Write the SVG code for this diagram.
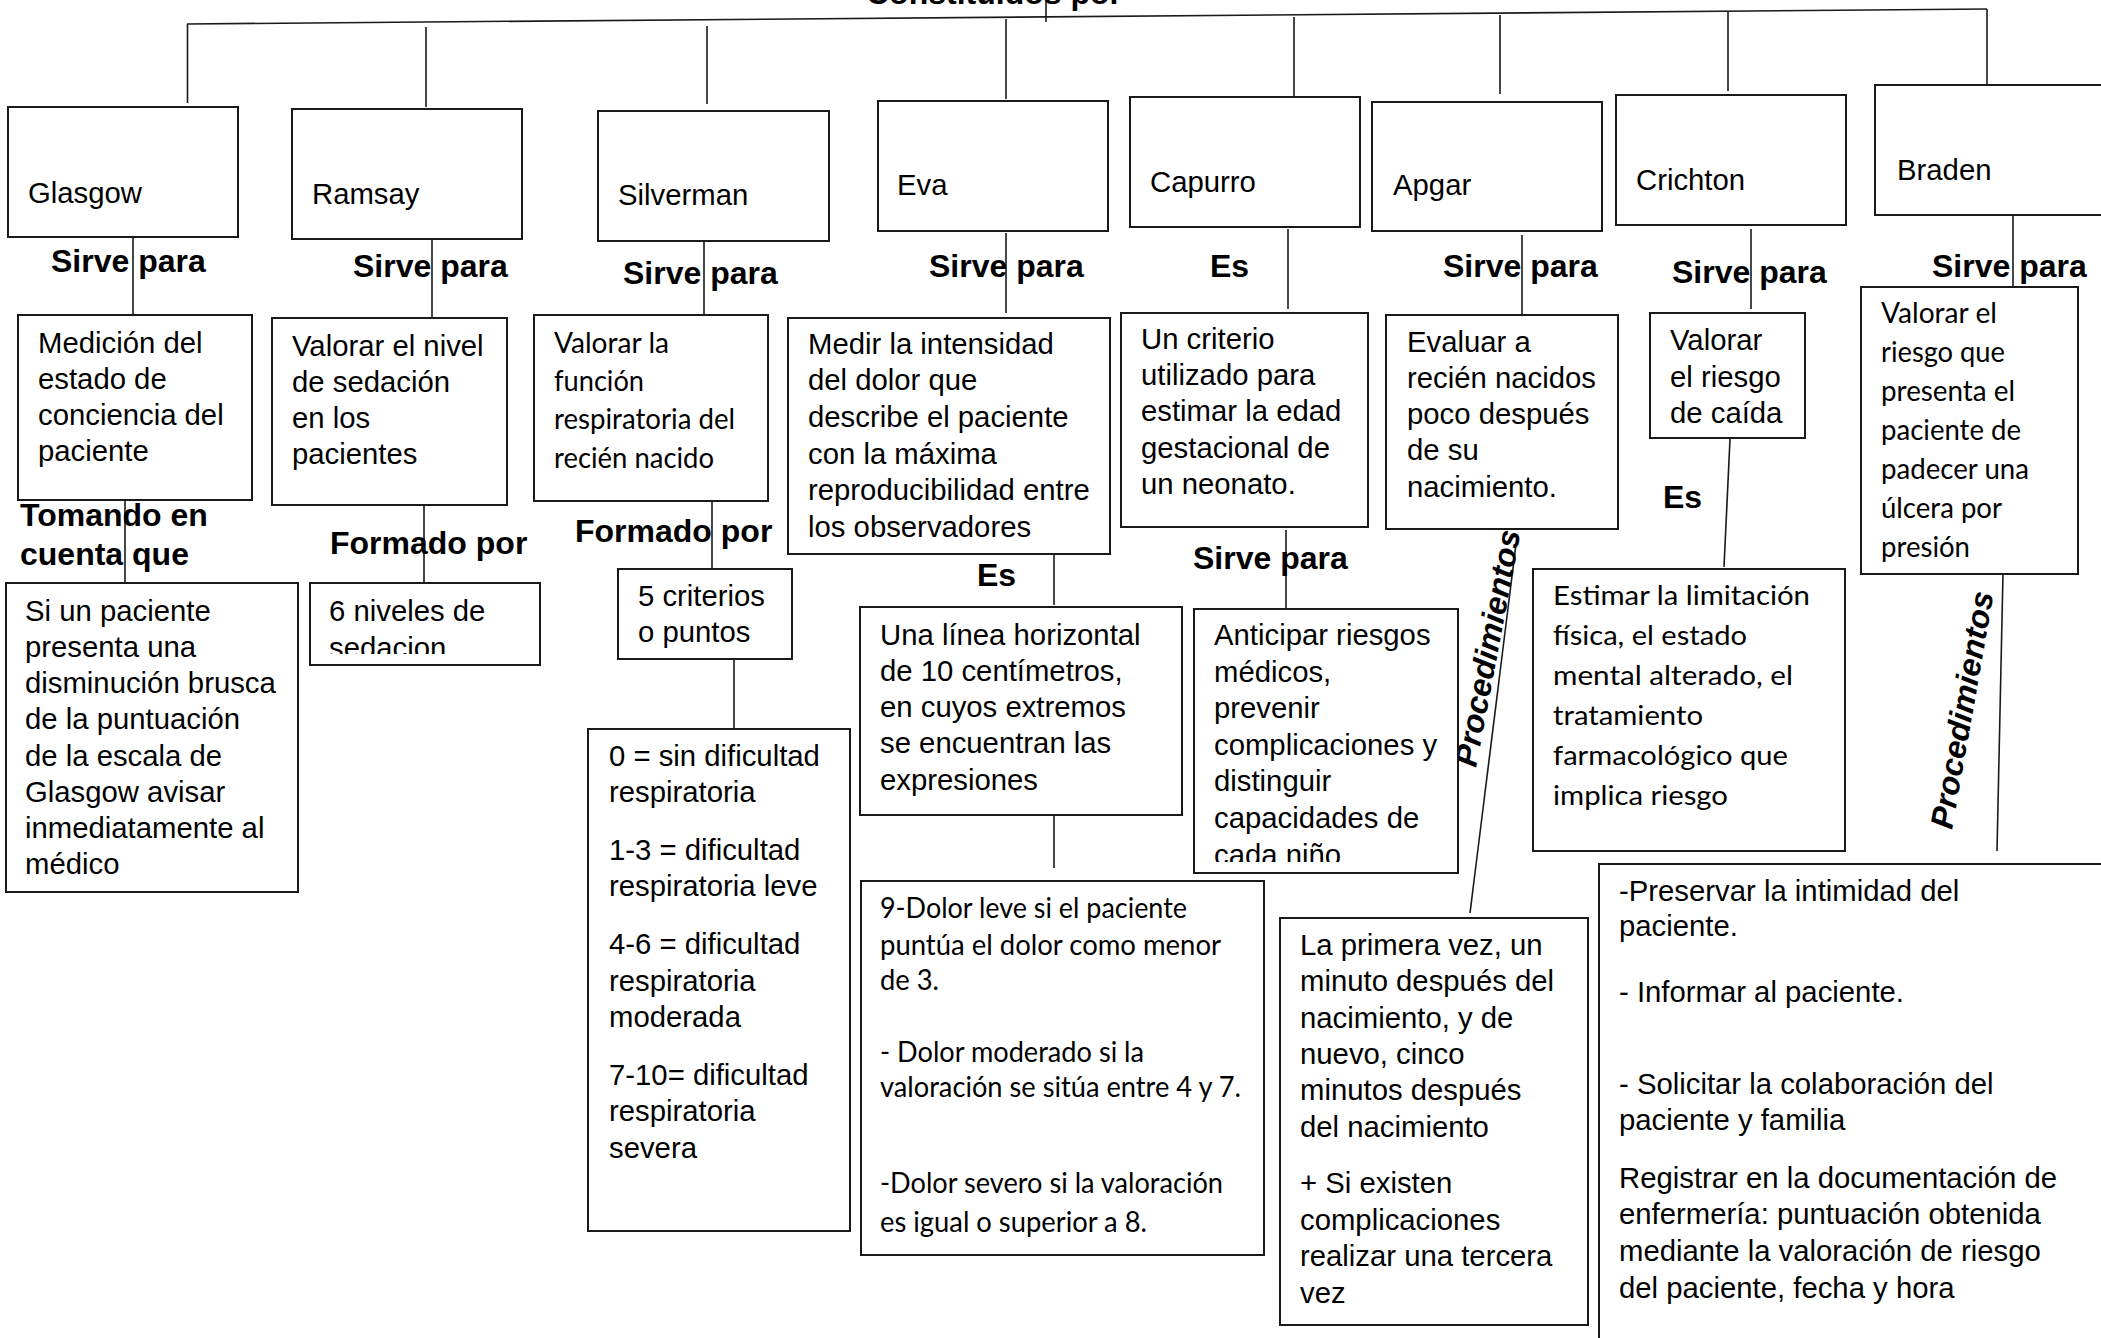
<svg xmlns="http://www.w3.org/2000/svg" width="2101" height="1338" viewBox="0 0 2101 1338">
<style>
.box{fill:#fff;stroke:#1a1a1a;stroke-width:2}
.ln{stroke:#1a1a1a;stroke-width:1.6;fill:none}
.t{font-family:"Liberation Sans",Arial,sans-serif;font-size:29.3px;fill:#000}
.c{font-family:Lato,"Liberation Sans",sans-serif;font-size:29.3px;fill:#000}
.g{font-family:Lato,"Liberation Sans",sans-serif;font-size:27.5px;fill:#000}
.b{font-family:"Liberation Sans",Arial,sans-serif;font-size:32px;font-weight:bold;fill:#000}
.bi{font-family:"Liberation Sans",Arial,sans-serif;font-size:32px;font-weight:bold;font-style:italic;fill:#000}
</style>
<defs>
<clipPath id="clipSed"><rect x="310" y="583" width="230" height="71"/></clipPath>
<clipPath id="clipAnt"><rect x="1194" y="609" width="264" height="253"/></clipPath>
</defs>
<rect width="2101" height="1338" fill="#fff"/>

<g id="connectors">
<line class="ln" x1="187" y1="24" x2="1987" y2="9"/>
<line class="ln" x1="1046" y1="0" x2="1046" y2="22"/>
<line class="ln" x1="187.5" y1="24" x2="187.5" y2="103"/>
<line class="ln" x1="426" y1="27" x2="426" y2="107"/>
<line class="ln" x1="707" y1="26" x2="707" y2="104"/>
<line class="ln" x1="1006" y1="19" x2="1006" y2="99"/>
<line class="ln" x1="1294" y1="17" x2="1294" y2="97"/>
<line class="ln" x1="1500" y1="15" x2="1500" y2="94"/>
<line class="ln" x1="1728" y1="12" x2="1728" y2="91"/>
<line class="ln" x1="1987" y1="9" x2="1987" y2="85"/>
<line class="ln" x1="133" y1="237" x2="133" y2="315"/>
<line class="ln" x1="432" y1="239" x2="432" y2="318"/>
<line class="ln" x1="704" y1="237" x2="704" y2="315"/>
<line class="ln" x1="1006" y1="233" x2="1006" y2="313"/>
<line class="ln" x1="1288" y1="229" x2="1288" y2="309"/>
<line class="ln" x1="1522" y1="235" x2="1522" y2="314"/>
<line class="ln" x1="1751" y1="229" x2="1751" y2="309"/>
<line class="ln" x1="2013" y1="213" x2="2013" y2="287"/>
<line class="ln" x1="125" y1="500" x2="125" y2="583"/>
<line class="ln" x1="424" y1="505" x2="424" y2="583"/>
<line class="ln" x1="712" y1="501" x2="712" y2="569"/>
<line class="ln" x1="1054" y1="549" x2="1054" y2="605"/>
<line class="ln" x1="1286" y1="530" x2="1286" y2="609"/>
<line class="ln" x1="1517" y1="536" x2="1470" y2="913"/>
<line class="ln" x1="1730" y1="439" x2="1724" y2="567"/>
<line class="ln" x1="2003" y1="573" x2="1997" y2="851"/>
<line class="ln" x1="734" y1="659" x2="734" y2="729"/>
<line class="ln" x1="1054" y1="815" x2="1054" y2="868"/>
</g>

<g id="labels">
<text class="b" x="866" y="4">Constituidos por</text>
<text class="b" x="51" y="272">Sirve para</text>
<text class="b" x="353" y="277">Sirve para</text>
<text class="b" x="623" y="284">Sirve para</text>
<text class="b" x="929" y="277">Sirve para</text>
<text class="b" x="1210" y="277">Es</text>
<text class="b" x="1443" y="277">Sirve para</text>
<text class="b" x="1672" y="283">Sirve para</text>
<text class="b" x="1932" y="277">Sirve para</text>
<text class="b"><tspan x="20" y="526">Tomando en</tspan><tspan x="20" y="565">cuenta que</tspan></text>
<text class="b" x="330" y="554">Formado por</text>
<text class="b" x="575" y="542">Formado por</text>
<text class="b" x="977" y="586">Es</text>
<text class="b" x="1193" y="569">Sirve para</text>
<text class="b" x="1663" y="508">Es</text>
<text class="bi" transform="translate(1476,768) rotate(-79.3)">Procedimientos</text>
<text class="bi" transform="translate(1952,830) rotate(-80)">Procedimientos</text>
</g>

<g id="glasgow"><rect class="box" x="8" y="107" width="230" height="130"/><text class="t" x="28" y="203">Glasgow</text></g>
<g id="ramsay"><rect class="box" x="292" y="109" width="230" height="130"/><text class="t" x="312" y="204">Ramsay</text></g>
<g id="silverman"><rect class="box" x="598" y="111" width="231" height="130"/><text class="t" x="618" y="205">Silverman</text></g>
<g id="eva"><rect class="box" x="878" y="101" width="230" height="130"/><text class="t" x="897" y="195">Eva</text></g>
<g id="capurro"><rect class="box" x="1130" y="97" width="230" height="130"/><text class="t" x="1150" y="192">Capurro</text></g>
<g id="apgar"><rect class="box" x="1372" y="102" width="230" height="129"/><text class="t" x="1393" y="195">Apgar</text></g>
<g id="crichton"><rect class="box" x="1616" y="95" width="230" height="130"/><text class="t" x="1636" y="190">Crichton</text></g>
<g id="braden"><rect class="box" x="1875" y="85" width="240" height="130"/><text class="t" x="1897" y="180">Braden</text></g>

<g id="glasgow-desc"><rect class="box" x="18" y="315" width="234" height="185"/>
<text class="t"><tspan x="38" y="353">Medición del</tspan><tspan x="38" y="389">estado de</tspan><tspan x="38" y="425">conciencia del</tspan><tspan x="38" y="461">paciente</tspan></text></g>
<g id="ramsay-desc"><rect class="box" x="272" y="318" width="235" height="187"/>
<text class="t"><tspan x="292" y="356">Valorar el nivel</tspan><tspan x="292" y="392">de sedación</tspan><tspan x="292" y="428">en los</tspan><tspan x="292" y="464">pacientes</tspan></text></g>
<g id="silverman-desc"><rect class="box" x="534" y="315" width="234" height="186"/>
<text class="c"><tspan x="554" y="353" textLength="115" lengthAdjust="spacingAndGlyphs">Valorar la</tspan><tspan x="554" y="391" textLength="90" lengthAdjust="spacingAndGlyphs">función</tspan><tspan x="554" y="429" textLength="181" lengthAdjust="spacingAndGlyphs">respiratoria del</tspan><tspan x="554" y="468" textLength="160" lengthAdjust="spacingAndGlyphs">recién nacido</tspan></text></g>
<g id="eva-desc"><rect class="box" x="788" y="318" width="322" height="236"/>
<text class="t"><tspan x="808" y="354">Medir la intensidad</tspan><tspan x="808" y="390">del dolor que</tspan><tspan x="808" y="427">describe el paciente</tspan><tspan x="808" y="464">con la máxima</tspan><tspan x="808" y="500">reproducibilidad entre</tspan><tspan x="808" y="537">los observadores</tspan></text></g>
<g id="capurro-desc"><rect class="box" x="1121" y="313" width="247" height="214"/>
<text class="t"><tspan x="1141" y="349">Un criterio</tspan><tspan x="1141" y="385">utilizado para</tspan><tspan x="1141" y="421">estimar la edad</tspan><tspan x="1141" y="458">gestacional de</tspan><tspan x="1141" y="494">un neonato.</tspan></text></g>
<g id="apgar-desc"><rect class="box" x="1386" y="315" width="232" height="214"/>
<text class="t"><tspan x="1407" y="352">Evaluar a</tspan><tspan x="1407" y="388">recién nacidos</tspan><tspan x="1407" y="424">poco después</tspan><tspan x="1407" y="460">de su</tspan><tspan x="1407" y="497">nacimiento.</tspan></text></g>
<g id="crichton-desc"><rect class="box" x="1650" y="313" width="155" height="125"/>
<text class="t"><tspan x="1670" y="350">Valorar</tspan><tspan x="1670" y="387">el riesgo</tspan><tspan x="1670" y="423">de caída</tspan></text></g>
<g id="braden-desc"><rect class="box" x="1861" y="287" width="217" height="287"/>
<text class="c"><tspan x="1881" y="323" textLength="116" lengthAdjust="spacingAndGlyphs">Valorar el</tspan><tspan x="1881" y="362" textLength="124" lengthAdjust="spacingAndGlyphs">riesgo que</tspan><tspan x="1881" y="401" textLength="134" lengthAdjust="spacingAndGlyphs">presenta el</tspan><tspan x="1881" y="440" textLength="140" lengthAdjust="spacingAndGlyphs">paciente de</tspan><tspan x="1881" y="479" textLength="148" lengthAdjust="spacingAndGlyphs">padecer una</tspan><tspan x="1881" y="518" textLength="121" lengthAdjust="spacingAndGlyphs">úlcera por</tspan><tspan x="1881" y="557" textLength="89" lengthAdjust="spacingAndGlyphs">presión</tspan></text></g>

<g id="glasgow-nota"><rect class="box" x="6" y="583" width="292" height="309"/>
<text class="t"><tspan x="25" y="621">Si un paciente</tspan><tspan x="25" y="657">presenta una</tspan><tspan x="25" y="693">disminución brusca</tspan><tspan x="25" y="729">de la puntuación</tspan><tspan x="25" y="766">de la escala de</tspan><tspan x="25" y="802">Glasgow avisar</tspan><tspan x="25" y="838">inmediatamente al</tspan><tspan x="25" y="874">médico</tspan></text></g>
<g id="ramsay-niveles"><rect class="box" x="310" y="583" width="230" height="82"/>
<text class="t" clip-path="url(#clipSed)"><tspan x="329" y="621">6 niveles de</tspan><tspan x="329" y="658">sedacion</tspan></text></g>
<g id="silverman-criterios"><rect class="box" x="618" y="569" width="174" height="90"/>
<text class="t"><tspan x="638" y="606">5 criterios</tspan><tspan x="638" y="642">o puntos</tspan></text></g>
<g id="eva-es"><rect class="box" x="860" y="607" width="322" height="208"/>
<text class="t"><tspan x="880" y="645">Una línea horizontal</tspan><tspan x="880" y="681">de 10 centímetros,</tspan><tspan x="880" y="717">en cuyos extremos</tspan><tspan x="880" y="753">se encuentran las</tspan><tspan x="880" y="790">expresiones</tspan></text></g>
<g id="capurro-sirve"><rect class="box" x="1194" y="609" width="264" height="264"/>
<text class="t" clip-path="url(#clipAnt)"><tspan x="1214" y="645">Anticipar riesgos</tspan><tspan x="1214" y="682">médicos,</tspan><tspan x="1214" y="718">prevenir</tspan><tspan x="1214" y="755">complicaciones y</tspan><tspan x="1214" y="791">distinguir</tspan><tspan x="1214" y="828">capacidades de</tspan><tspan x="1214" y="865">cada niño</tspan></text></g>
<g id="crichton-es"><rect class="box" x="1533" y="569" width="312" height="282"/>
<text class="g"><tspan x="1553" y="605" textLength="257" lengthAdjust="spacingAndGlyphs">Estimar la limitación</tspan><tspan x="1553" y="645" textLength="194" lengthAdjust="spacingAndGlyphs">física, el estado</tspan><tspan x="1553" y="685" textLength="240" lengthAdjust="spacingAndGlyphs">mental alterado, el</tspan><tspan x="1553" y="725" textLength="150" lengthAdjust="spacingAndGlyphs">tratamiento</tspan><tspan x="1553" y="765" textLength="235" lengthAdjust="spacingAndGlyphs">farmacológico que</tspan><tspan x="1553" y="805" textLength="175" lengthAdjust="spacingAndGlyphs">implica riesgo</tspan></text></g>

<g id="silverman-escala"><rect class="box" x="588" y="729" width="262" height="502"/>
<text class="t"><tspan x="609" y="766">0 = sin dificultad</tspan><tspan x="609" y="802">respiratoria</tspan><tspan x="609" y="860">1-3 = dificultad</tspan><tspan x="609" y="896">respiratoria leve</tspan><tspan x="609" y="954">4-6 = dificultad</tspan><tspan x="609" y="991">respiratoria</tspan><tspan x="609" y="1027">moderada</tspan><tspan x="609" y="1085">7-10= dificultad</tspan><tspan x="609" y="1121">respiratoria</tspan><tspan x="609" y="1158">severa</tspan></text></g>
<g id="eva-escala"><rect class="box" x="861" y="881" width="403" height="374"/>
<text class="c"><tspan x="880" y="918" textLength="307" lengthAdjust="spacingAndGlyphs">9-Dolor leve si el paciente</tspan><tspan x="880" y="955" textLength="341" lengthAdjust="spacingAndGlyphs">puntúa el dolor como menor</tspan><tspan x="880" y="990" textLength="59" lengthAdjust="spacingAndGlyphs">de 3.</tspan><tspan x="880" y="1062" textLength="264" lengthAdjust="spacingAndGlyphs">- Dolor moderado si la</tspan><tspan x="880" y="1097" textLength="361" lengthAdjust="spacingAndGlyphs">valoración se sitúa entre 4 y 7.</tspan><tspan x="880" y="1193" textLength="343" lengthAdjust="spacingAndGlyphs">-Dolor severo si la valoración</tspan><tspan x="880" y="1232" textLength="267" lengthAdjust="spacingAndGlyphs">es igual o superior a 8.</tspan></text></g>
<g id="apgar-procedimientos"><rect class="box" x="1280" y="918" width="308" height="407"/>
<text class="t"><tspan x="1300" y="955">La primera vez, un</tspan><tspan x="1300" y="991">minuto después del</tspan><tspan x="1300" y="1028">nacimiento, y de</tspan><tspan x="1300" y="1064">nuevo, cinco</tspan><tspan x="1300" y="1100">minutos después</tspan><tspan x="1300" y="1137">del nacimiento</tspan><tspan x="1300" y="1193">+ Si existen</tspan><tspan x="1300" y="1230">complicaciones</tspan><tspan x="1300" y="1266">realizar una tercera</tspan><tspan x="1300" y="1303">vez</tspan></text></g>
<g id="braden-procedimientos"><rect class="box" x="1599" y="864" width="520" height="490"/>
<text class="t"><tspan x="1619" y="901">-Preservar la intimidad del</tspan><tspan x="1619" y="936">paciente.</tspan><tspan x="1619" y="1002">- Informar al paciente.</tspan><tspan x="1619" y="1094">- Solicitar la colaboración del</tspan><tspan x="1619" y="1130">paciente y familia</tspan><tspan x="1619" y="1188">Registrar en la documentación de</tspan><tspan x="1619" y="1224">enfermería: puntuación obtenida</tspan><tspan x="1619" y="1261">mediante la valoración de riesgo</tspan><tspan x="1619" y="1298">del paciente, fecha y hora</tspan></text></g>
</svg>
